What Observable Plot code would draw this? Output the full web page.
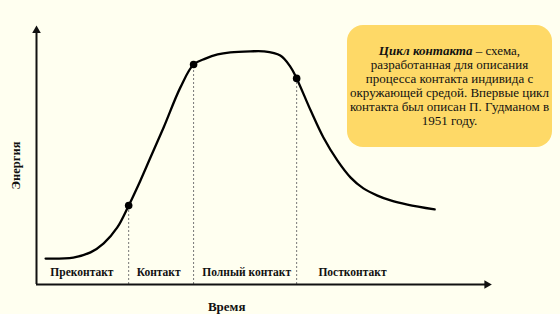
<!DOCTYPE html>
<html><head><meta charset="utf-8">
<script src="https://cdn.jsdelivr.net/npm/d3@7"></script>
<script src="https://cdn.jsdelivr.net/npm/@observablehq/plot@0.6"></script>
<style>
html,body{margin:0;padding:0;background:#FFFFF0;}
#wrap{position:relative;width:560px;height:314px;overflow:hidden;}
#note{position:absolute;left:347px;top:25px;width:205px;height:122px;border-radius:16px;background:#FED967;
display:flex;align-items:center;justify-content:center;text-align:center;font-family:"Liberation Serif","Times New Roman",serif;font-size:13px;line-height:14px;color:#111;}
</style></head>
<body><div id="wrap"><div id="note"><div><b><i>Цикл контакта</i></b> – схема,<br>разработанная для описания<br>процесса контакта индивида с<br>окружающей средой. Впервые цикл<br>контакта был описан П. Гудманом в<br>1951 году.</div></div></div>
<script>
const curveT = [2.0,8.1,11.9,14.8,17.8,20.3,22.9,25.1,28.0,31.7,34.6,37.2,39.9,42.7,47.1,50.0,53.7,55.9,57.3,60.4,63.2,66.3,69.2,72.0,75.1,78.0,81.7,87.7];
const curveE = [10.1,10.5,12.5,16.0,22.2,30.7,40.5,49.4,61.1,76.7,85.6,87.9,89.5,90.3,90.7,90.7,89.1,84.8,80.2,67.7,57.2,48.2,41.6,37.4,34.6,32.7,31.1,29.2];
const markT = [20.3,34.6,57.3];
const markE = [30.7,85.6,80.2];
const phases = ["Преконтакт","Контакт","Полный контакт","Постконтакт"];
const phaseT = [10.0,26.9,46.3,69.6];

const curve = curveT.map((t,i)=>({t,e:curveE[i]}));
const marks = markT.map((t,i)=>({t,e:markE[i]}));
const ph = phases.map((p,i)=>({p,t:phaseT[i]}));
const serif = "Liberation Serif, Times New Roman, serif";

const chart = Plot.plot({
  width:560, height:314,
  marginLeft:36, marginRight:70, marginTop:27, marginBottom:30,
  x:{domain:[0,100], axis:null},
  y:{domain:[0,100], axis:null},
  style:{background:"transparent", fontFamily:serif},
  marks:[
    Plot.ruleX(marks,{x:"t", y1:0, y2:"e", stroke:"#777", strokeWidth:1, strokeDasharray:"2,2"}),
    Plot.ruleY([0],{x1:0, x2:99, stroke:"#111", strokeWidth:2}),
    Plot.ruleX([0],{y1:0, y2:98, stroke:"#111", strokeWidth:2}),
    Plot.dot([{x:99.2,y:0}],{x:"x",y:"y",symbol:"triangle",r:3.2,fill:"#111",rotate:90}),
    Plot.dot([{x:0,y:98.8}],{x:"x",y:"y",symbol:"triangle",r:3.2,fill:"#111"}),
    Plot.line(curve,{x:"t",y:"e",curve:"catmull-rom",stroke:"#000",strokeWidth:2.3}),
    Plot.dot(marks,{x:"t",y:"e",r:3.8,fill:"#000"}),
    Plot.text(ph,{x:"t",y:4.7,text:"p",fontSize:11.5,fontWeight:"bold",fill:"#111",fontFamily:serif}),
    Plot.text(["Время"],{x:41.9,y:-8.6,text:d=>d,fontSize:13,fontWeight:"bold",fill:"#111",fontFamily:serif,clip:false}),
    Plot.text(["Энергия"],{x:-4.6,y:46.3,text:d=>d,rotate:-90,fontSize:12.5,fontWeight:"bold",fill:"#111",fontFamily:serif,clip:false})
  ]
});
document.getElementById("wrap").prepend(chart);
chart.style.position="absolute"; chart.style.left="0"; chart.style.top="0";
</script></body></html>
